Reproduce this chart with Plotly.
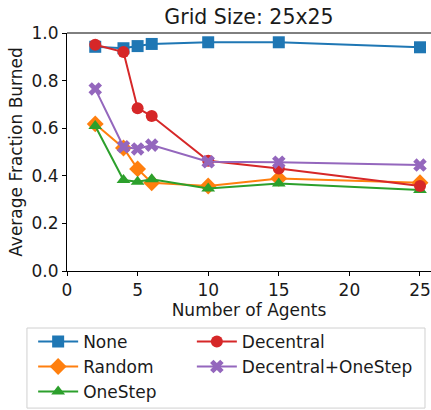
import plotly.graph_objects as go

agents = [2, 4, 5, 6, 10, 15, 25]
none_vals = [0.942, 0.936, 0.945, 0.954, 0.961, 0.961, 0.940]
random_vals = [0.618, 0.517, 0.429, 0.371, 0.357, 0.389, 0.371]
onestep_vals = [0.609, 0.382, 0.375, 0.385, 0.347, 0.368, 0.340]
decentral_vals = [0.951, 0.920, 0.684, 0.651, 0.463, 0.431, 0.357]
dec_onestep_vals = [0.765, 0.522, 0.513, 0.529, 0.459, 0.457, 0.445]

series = [
    ("None", none_vals, "#1f77b4", "square", "legend"),
    ("Random", random_vals, "#ff7f0e", "diamond", "legend"),
    ("OneStep", onestep_vals, "#2ca02c", "triangle-up", "legend"),
    ("Decentral", decentral_vals, "#d62728", "circle", "legend2"),
    ("Decentral+OneStep", dec_onestep_vals, "#9467bd", "x", "legend2"),
]

fig = go.Figure()
for name, vals, color, sym, leg in series:
    fig.add_trace(go.Scatter(
        x=agents, y=vals, name=name, mode="lines+markers",
        line=dict(color=color, width=2),
        marker=dict(symbol=sym, size=12 if sym != "diamond" else 13, color=color, line=dict(width=0)),
        legend=leg,
    ))

font = "DejaVu Sans, sans-serif"
leg_common = dict(orientation="v", xanchor="left", y=-0.222, yanchor="top",
                  bgcolor="rgba(0,0,0,0)", borderwidth=0, font=dict(size=17),
                  tracegroupgap=0, itemwidth=40)
fig.update_layout(
    width=431, height=410,
    margin=dict(l=67, r=0, t=33, b=139, autoexpand=False),
    plot_bgcolor="white", paper_bgcolor="white",
    font=dict(family=font, size=17, color="#1a1a1a"),
    title=dict(text="Grid Size: 25x25", x=0.5, xref="paper", xanchor="center",
               y=1 - 17 / 410, yanchor="middle", font=dict(size=20.5)),
    showlegend=True,
    legend=dict(x=-0.093, **leg_common),
    legend2=dict(x=0.343, **leg_common),
    xaxis=dict(range=[0, 25.78], tickvals=[0, 5, 10, 15, 20, 25], showgrid=False, zeroline=False,
               showline=True, linecolor="black", linewidth=1, ticks="outside", ticklen=4,
               tickcolor="black", tickfont=dict(size=17),
               title=dict(text="Number of Agents", font=dict(size=17), standoff=0)),
    yaxis=dict(range=[0, 1.0], tickvals=[0, 0.2, 0.4, 0.6, 0.8, 1.0], tickformat=".1f",
               showgrid=False, zeroline=False, showline=True, linecolor="black", linewidth=1,
               ticks="outside", ticklen=4, tickcolor="black", tickfont=dict(size=17),
               title=dict(text="Average Fraction Burned", font=dict(size=17), standoff=4)),
)
fig.add_shape(type="line", xref="paper", yref="paper", x0=0, x1=1, y0=1, y1=1,
              line=dict(color="black", width=1))
fig.add_shape(type="rect", xref="paper", yref="paper", x0=-0.11, x1=0.9835, y0=-0.576, y1=-0.2395,
              line=dict(color="#d0d0d0", width=1), fillcolor="rgba(0,0,0,0)", layer="above")
fig.write_html("out.html")
